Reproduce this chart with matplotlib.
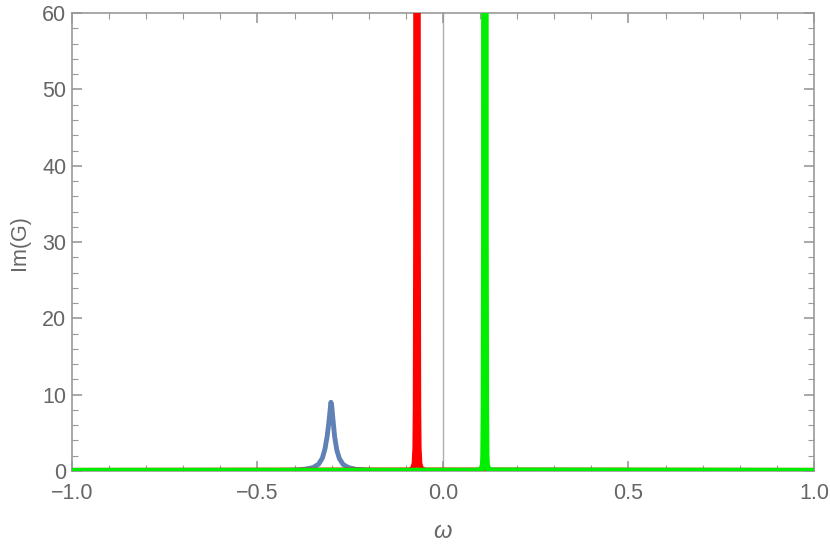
import matplotlib
matplotlib.use("Agg")
import matplotlib.pyplot as plt
from matplotlib.ticker import MultipleLocator

plt.rcParams['font.family'] = ['Liberation Sans', 'DejaVu Sans']
plt.rcParams['mathtext.fontset'] = 'custom'
plt.rcParams['mathtext.it'] = 'Liberation Sans:italic'

# 藍色峰 (寬的 Lorentz 峰)
blue_w = [-1.0, -0.6, -0.5, -0.45, -0.4, -0.37, -0.35, -0.335, -0.325, -0.318, -0.312,
          -0.307, -0.304, -0.302, -0.300, -0.297, -0.292, -0.286, -0.279, -0.269,
          -0.255, -0.235, -0.2, -0.1, 0.0, 0.5, 1.0]
blue_g = [0.01, 0.02, 0.03, 0.05, 0.1, 0.25, 0.45, 0.9, 1.7, 2.9, 4.6,
          6.6, 8.1, 9.0, 8.6, 7.0, 4.5, 2.7, 1.6, 0.85,
          0.45, 0.22, 0.1, 0.03, 0.02, 0.01, 0.01]

# 紅色峰 (很窄，超出上界)
red_w = [-1.0, -0.09, -0.08, -0.076, -0.074, -0.073, -0.072, -0.071, -0.070,
         -0.069, -0.068, -0.067, -0.066, -0.064, -0.06, -0.05, 1.0]
red_g = [0.0, 0.05, 0.3, 1.0, 3.0, 8.0, 30.0, 150.0, 400.0,
         150.0, 30.0, 8.0, 3.0, 1.0, 0.3, 0.05, 0.0]

# 綠色峰 (很窄，超出上界)
green_w = [-1.0, 0.09, 0.1, 0.105, 0.108, 0.109, 0.110, 0.111, 0.112, 0.113,
           0.114, 0.115, 0.116, 0.117, 0.118, 0.121, 0.13, 1.0]
green_g = [0.0, 0.02, 0.1, 0.3, 0.8, 2.0, 8.0, 30.0, 150.0, 400.0,
           150.0, 30.0, 8.0, 2.0, 0.8, 0.3, 0.05, 0.0]

fig = plt.figure(figsize=(8.3, 5.45), dpi=100)
ax = fig.add_axes([0.0867, 0.1358, 0.894, 0.840])

ax.axvline(0, color='#b0b0b0', lw=1.0, zorder=1)
ax.plot(blue_w, blue_g, color='#5f81b5', lw=3.5, zorder=2)
ax.plot(red_w, red_g, color='#ff0000', lw=4.5, zorder=3)
ax.plot(green_w, green_g, color='#00ee00', lw=4.5, zorder=4)

ax.set_xlim(-1, 1)
ax.set_ylim(0, 60)

ax.xaxis.set_major_locator(MultipleLocator(0.5))
ax.xaxis.set_minor_locator(MultipleLocator(0.1))
ax.yaxis.set_major_locator(MultipleLocator(10))
ax.yaxis.set_minor_locator(MultipleLocator(2))
ax.xaxis.set_major_formatter(plt.FuncFormatter(lambda v, p: ('%.1f' % v).replace('-', '\u2212')))
ax.yaxis.set_major_formatter(plt.FuncFormatter(lambda v, p: '%d' % v))

gray = '#666666'
for s in ax.spines.values():
    s.set_color('#999999')
    s.set_linewidth(1.2)
ax.tick_params(which='both', direction='in', top=True, right=True, colors='#999999',
               labelcolor=gray, labelsize=15.5)
ax.tick_params(which='major', length=7, width=1.2)
ax.tick_params(which='minor', length=4, width=0.8)
ax.tick_params(axis='x', pad=9)
ax.tick_params(axis='y', pad=4)

ax.set_xlabel(r'$\omega$', fontsize=17, color=gray, labelpad=12)
ax.set_ylabel('Im(G)', fontsize=15.5, color=gray, labelpad=9)

fig.savefig('out.png', dpi=100)
